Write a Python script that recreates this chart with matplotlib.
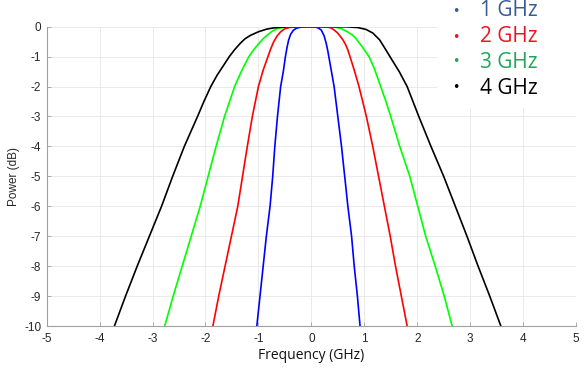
import matplotlib
matplotlib.use("Agg")
import matplotlib.pyplot as plt
import numpy as np

plt.rcParams["axes.unicode_minus"] = False

# Frequency (GHz) and power (dB), left to right
x_1ghz = [-1.03, -0.97, -0.91, -0.85, -0.78, -0.73, -0.69, -0.64, -0.58,
          -0.53, -0.49, -0.46, -0.43, -0.39, -0.34, -0.28, -0.20, -0.10,
          0.0, 0.08, 0.14, 0.19, 0.24, 0.28, 0.31, 0.33, 0.38,
          0.43, 0.50, 0.57, 0.63, 0.69, 0.76, 0.81, 0.87, 0.92]
y_1ghz = [-10, -9, -8, -7, -6, -5, -4, -3, -2,
          -1.5, -1.0, -0.7, -0.45, -0.25, -0.12, -0.05, -0.015, 0,
          0, -0.01, -0.05, -0.12, -0.3, -0.55, -0.8, -1.0, -1.5,
          -2, -3, -4, -5, -6, -7, -8, -9, -10]

x_2ghz = [-1.86, -1.75, -1.63, -1.51, -1.39, -1.30, -1.21, -1.115, -1.00,
          -0.91, -0.82, -0.77, -0.71, -0.65, -0.58, -0.50, -0.40, -0.20,
          0.20, 0.30, 0.37, 0.43, 0.49, 0.55, 0.60, 0.65, 0.69, 0.73,
          0.81, 0.90, 1.04, 1.16, 1.27, 1.38, 1.49, 1.59, 1.70, 1.81]
y_2ghz = [-10, -9, -8, -7, -6, -5, -4, -3, -2,
          -1.45, -1, -0.75, -0.5, -0.32, -0.17, -0.07, -0.02, 0,
          0, -0.01, -0.04, -0.11, -0.2, -0.33, -0.45, -0.61, -0.78, -1,
          -1.45, -2, -3, -4, -5, -6, -7, -8, -9, -10]

x_3ghz = [-2.77, -2.61, -2.44, -2.27, -2.10, -1.95, -1.80, -1.64, -1.45,
          -1.31, -1.18, -1.08, -0.99, -0.91, -0.83, -0.74, -0.64, -0.50, -0.30,
          0.20, 0.43, 0.56, 0.68, 0.77, 0.84, 0.96, 1.09,
          1.19, 1.31, 1.40, 1.50, 1.67, 1.86, 2.01, 2.16, 2.34, 2.51, 2.66]
y_3ghz = [-10, -9, -8, -7, -6, -5, -4, -3, -2,
          -1.45, -1, -0.75, -0.56, -0.4, -0.28, -0.15, -0.06, -0.02, -0.005,
          0, -0.01, -0.06, -0.17, -0.27, -0.39, -0.67, -1,
          -1.4, -2, -2.45, -3, -4, -5, -6, -7, -8, -9, -10]

x_4ghz = [-3.72, -3.51, -3.29, -3.06, -2.83, -2.62, -2.40, -2.15,
          -2.03, -1.90, -1.78, -1.65, -1.55, -1.45, -1.34, -1.25, -1.15, -1.00,
          -0.84, -0.71, -0.60, -0.45, 0.0,
          0.68, 0.88, 1.03, 1.16, 1.29, 1.41, 1.52, 1.66, 1.81, 1.92, 2.03,
          2.26, 2.50, 2.72, 2.94, 3.15, 3.37, 3.58]
y_4ghz = [-10, -9, -8, -7, -6, -5, -4, -3,
          -2.5, -2, -1.62, -1.27, -1, -0.77, -0.55, -0.40, -0.29, -0.17,
          -0.08, -0.04, -0.02, -0.005, 0,
          -0.005, -0.03, -0.09, -0.21, -0.44, -0.78, -1.1, -1.5, -2, -2.5, -3,
          -4, -5, -6, -7, -8, -9, -10]

labels = ["1 GHz", "2 GHz", "3 GHz", "4 GHz"]
line_colors = ["#0000ff", "#ff0000", "#00ff00", "#000000"]
legend_colors = ["#3b5a96", "#e8171d", "#1fa65a", "#000000"]

fig = plt.figure(figsize=(5.88, 3.69), dpi=100)
ax = fig.add_axes([0.0794, 0.1165, 0.9002, 0.8112])

series = [(x_1ghz, y_1ghz), (x_2ghz, y_2ghz), (x_3ghz, y_3ghz), (x_4ghz, y_4ghz)]
for (xs, ys), c in zip(series, line_colors):
    ax.plot(xs, ys, color=c, lw=1.2, solid_joinstyle="round")

ax.set_xlim(-5, 5)
ax.set_ylim(-10, 0)
ax.set_xticks(np.arange(-5, 6, 1))
ax.set_yticks(np.arange(-10, 1, 1))
ax.grid(True, color="#e6e6e6", lw=0.6)
ax.set_axisbelow(True)
for s in ["top", "right"]:
    ax.spines[s].set_visible(False)
for s in ["left", "bottom"]:
    ax.spines[s].set_color("#a0a0a0")
    ax.spines[s].set_linewidth(0.8)
ax.tick_params(direction="in", length=3, width=0.6, color="#a0a0a0",
               labelsize=8.5, labelcolor="#262626")
ax.tick_params(axis="x", pad=5)
ax.tick_params(axis="y", pad=4)
for lab in ax.get_xticklabels() + ax.get_yticklabels():
    lab.set_family("Liberation Sans")

ax.set_ylabel("Power (dB)", fontsize=8.5, family="Liberation Sans", color="#262626", labelpad=3)
fig.text(0.529, 0.036, "Frequency (GHz)", fontsize=10, family="Open Sans", color="#111111",
         ha="center", va="center")

# pasted legend box in the top right corner
fig.patches.append(plt.Rectangle((0.743, 0.707), 0.26, 0.3, transform=fig.transFigure,
                                 facecolor="white", edgecolor="none", zorder=5))
row_y = [11, 37, 62, 88]
for lab, c, py in zip(labels, legend_colors, row_y):
    yf = 1 - py / 369
    fig.text(456 / 588, yf, "\u2022", color=c, fontsize=9, ha="center", va="center", zorder=6)
    fig.text(480 / 588, yf, lab, color=c, fontsize=15, family="Open Sans",
             ha="left", va="center", zorder=6)

fig.savefig("out.png", dpi=100)
